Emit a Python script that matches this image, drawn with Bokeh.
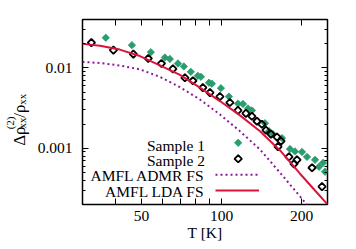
import math
from bokeh.plotting import figure
from bokeh.layouts import row
from bokeh.models import FixedTicker, LogAxis, Range1d
from bokeh.embed import file_html
from bokeh.resources import INLINE

# ---- data ----
sample1_T = [36.7, 46.0, 54.2, 61.2, 63.9, 68.5, 72.1, 76.6, 81.4, 83.6, 89.6, 91.9, 99.4,
             106.5, 115.2, 120.3, 125.6, 130.0, 145.5, 150.7, 156.0, 168.6, 180.7, 188.7,
             200.5, 209.4, 224.4, 232.3, 240.5, 244.7]
sample1_V = [0.0237, 0.0192, 0.0157, 0.01346, 0.0129, 0.01136, 0.01043, 0.00893, 0.00797,
             0.00775, 0.00654, 0.00636, 0.0056, 0.0044, 0.0036, 0.00356, 0.00313, 0.00296,
             0.00205, 0.00163, 0.0015, 0.00134, 0.00098, 0.000914, 0.0009, 0.000782,
             0.000718, 0.000589, 0.000659, 0.000511]

sample2_T = [32.4, 39.2, 46.6, 53.0, 59.4, 65.6, 72.8, 78.0, 85.0, 90.4, 98.5, 107.4, 115.2,
             123.4, 130.0, 135.8, 141.8, 146.8, 153.3, 161.5, 162.9, 167.2, 179.1, 187.1,
             192.0, 218.7, 238.4]
sample2_V = [0.0206, 0.01665, 0.01486, 0.0131, 0.01136, 0.00972, 0.00753, 0.00692, 0.00568,
             0.00493, 0.0044, 0.00371, 0.00296, 0.00272, 0.0025, 0.00217, 0.00199, 0.00168,
             0.0015, 0.00138, 0.00105, 0.00123, 0.000782, 0.000641, 0.000718, 0.000573,
             0.000334]

admr_T = [30, 34.9, 41.4, 49.3, 58.6, 69.7, 82.9, 98.5, 117.2, 139.4, 165.8, 197.1, 209.4]
admr_V = [0.01185, 0.01152, 0.01073, 0.00958, 0.00775, 0.00576, 0.00404, 0.00264, 0.00163,
          0.000966, 0.000497, 0.000252, 0.000198]

lda_T = [30, 34.9, 41.4, 49.3, 58.6, 69.7, 82.9, 98.5, 117.2, 139.4, 165.8, 197.1, 224.4, 250]
lda_V = [0.0199, 0.0189, 0.0169, 0.01405, 0.01073, 0.0082, 0.00568, 0.00387, 0.00257,
         0.00163, 0.00094, 0.000483, 0.000299, 0.000201]

x_major_ticks = [50, 100, 200]
x_tick_labels = ["50", "100", "200"]
x_minor_ticks = [40, 60, 70, 80, 90]
y_ticks = [0.001, 0.01]
y_tick_labels = ["0.001", "0.01"]
y_minor_ticks = [0.0002, 0.0003, 0.0004, 0.0005, 0.0006, 0.0007, 0.0008, 0.0009,
                 0.002, 0.003, 0.004, 0.005, 0.006, 0.007, 0.008, 0.009,
                 0.02, 0.03, 0.04]
legend_labels = ["Sample 1", "Sample 2", "AMFL ADMR FS", "AMFL LDA FS"]
x_title = "T [K]"
y_title_parts = ["Δρ", "xx", "(2)", "/ρ", "xx"]

X_RANGE = (30, 250)
Y_RANGE = (0.0002, 0.04)

# ---- styling ----
FONT = "Liberation Serif"
FS = "15.5px"
GREEN = "#2a9d6e"
PURPLE = "#8b1a9b"
RED = "#dc143c"
DOTS = "2 3"

H = 249
LW = 30            # width of the strip holding the y title
FL, FT = 82, 19    # frame left / top on the page
FW, FH = 245, 185  # frame size in px

p = figure(width=356 - LW, height=H, x_axis_type="log", y_axis_type="log",
           x_range=X_RANGE, y_range=Y_RANGE, output_backend="svg",
           toolbar_location=None, min_border_left=FL - LW, min_border_right=356 - FL - FW,
           min_border_top=FT, min_border_bottom=H - FT - FH)
p.grid.visible = False
p.outline_line_color = "black"
p.outline_line_width = 1.5
p.background_fill_color = "white"
p.border_fill_color = "white"


def style_axis(ax, major, minor, labels, major_len, minor_len):
    ax.ticker = FixedTicker(ticks=major, minor_ticks=minor)
    ax.axis_line_color = None
    ax.major_tick_in = major_len
    ax.major_tick_out = 0
    ax.minor_tick_in = minor_len
    ax.minor_tick_out = 0
    ax.major_tick_line_color = "black"
    ax.minor_tick_line_color = "black"
    ax.major_tick_line_width = 1
    ax.minor_tick_line_width = 1
    ax.major_label_text_font = FONT
    ax.major_label_text_font_size = FS
    ax.major_label_text_color = "black"
    if labels:
        ax.major_label_overrides = {t: l for t, l in zip(major, labels)}


style_axis(p.xaxis[0], x_major_ticks, x_minor_ticks, x_tick_labels, 6, 6)
style_axis(p.yaxis[0], y_ticks, y_minor_ticks, y_tick_labels, 6, 3)
p.xaxis[0].major_label_standoff = 6
p.yaxis[0].major_label_standoff = 10
p.xaxis[0].axis_label = x_title
p.xaxis[0].axis_label_text_font = FONT
p.xaxis[0].axis_label_text_font_size = FS
p.xaxis[0].axis_label_text_font_style = "normal"
p.xaxis[0].axis_label_text_color = "black"
p.xaxis[0].axis_label_standoff = 0

# mirrored tick marks (no labels: all drawn as minor ticks)
top_ax = LogAxis()
style_axis(top_ax, [], x_major_ticks + x_minor_ticks, None, 6, 6)
p.add_layout(top_ax, "above")
right_major = LogAxis()
style_axis(right_major, [], y_ticks, None, 6, 6)
p.add_layout(right_major, "right")
right_minor = LogAxis()
style_axis(right_minor, [], y_minor_ticks, None, 3, 3)
p.add_layout(right_minor, "right")

# ---- data glyphs ----
p.scatter(sample1_T, sample1_V, marker="square", angle=math.pi / 4, size=5.2,
          fill_color=GREEN, line_color=GREEN, line_width=0.8)
p.scatter(sample2_T, sample2_V, marker="square", angle=math.pi / 4, size=5.2,
          fill_color=None, line_color="black", line_width=1.8)
p.line(admr_T, admr_V, line_color=PURPLE, line_width=2, line_dash=DOTS)
p.line(lda_T, lda_V, line_color=RED, line_width=2)


# ---- legend (gnuplot style: text right, sample left); page px -> data ----
def dx(px):
    return X_RANGE[0] * (X_RANGE[1] / X_RANGE[0]) ** ((px - FL) / FW)


def dy(py):
    return Y_RANGE[0] * (Y_RANGE[1] / Y_RANGE[0]) ** ((FT + FH - py) / FH)


text_right = 204.5
row_centres = [145, 159.8, 175, 190.8]
p.text(x=[dx(text_right)] * 4, y=[dy(c) for c in row_centres], text=legend_labels,
       text_align="right", text_baseline="middle", text_font={"value": FONT},
       text_font_size=FS, text_color="black")

p.scatter([dx(237.7)], [dy(142.3)], marker="square", angle=math.pi / 4, size=5.2,
          fill_color=GREEN, line_color=GREEN, line_width=0.8)
p.scatter([dx(237.7)], [dy(158.3)], marker="square", angle=math.pi / 4, size=5.2,
          fill_color=None, line_color="black", line_width=1.8)
p.line([dx(215), dx(258.5)], [dy(174.3)] * 2, line_color=PURPLE, line_width=2,
       line_dash=DOTS)
p.line([dx(215), dx(258.5)], [dy(190)] * 2, line_color=RED, line_width=2)

# ---- y title in its own strip: data coords = page pixels (y up) ----
q = figure(width=LW, height=H, output_backend="svg", toolbar_location=None,
           x_range=Range1d(0, LW), y_range=Range1d(0, H),
           x_axis_location=None, y_axis_location=None,
           min_border_left=0, min_border_right=0, min_border_top=0, min_border_bottom=0)
q.grid.visible = False
q.outline_line_color = None
q.background_fill_color = "white"
q.border_fill_color = "white"

# (centre x on page, centre y on page, font size)
part_pos = [(19.4, 157, "17px"), (21, 139.2, "11px"), (9.2, 139.2, "11px"),
            (19.4, 123.3, "17px"), (21, 107.2, "11px")]
for txt, (cx, cy, fs) in zip(y_title_parts, part_pos):
    q.text(x=[cx], y=[H - cy], text=[txt], angle=math.pi / 2, text_align="center",
           text_baseline="middle", text_font={"value": FONT},
           text_font_size=fs, text_color="black")

layout = row(q, p, spacing=0)
open("out.html", "w").write(file_html(layout, INLINE))
